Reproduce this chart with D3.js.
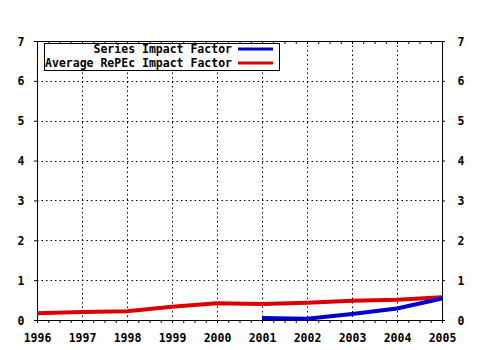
<!DOCTYPE html>
<html><head><meta charset="utf-8">
<script src="https://cdn.jsdelivr.net/npm/d3@7"></script>
<style>
body{margin:0;background:#fff;}
text{font-family:"DejaVu Sans Mono","Liberation Mono",monospace;font-weight:bold;font-size:11.5px;fill:#000;}
</style></head>
<body><svg id="c" width="480" height="350"></svg>
<script>
const years = [1996,1997,1998,1999,2000,2001,2002,2003,2004,2005];
const avgRepec = [0.17,0.20,0.22,0.33,0.42,0.40,0.43,0.48,0.51,0.57];
const seriesYears = [2001,2002,2003,2004,2005];
const seriesIF = [0.05,0.03,0.15,0.29,0.54];
const yTicks = [0,1,2,3,4,5,6,7];
const seriesNames = ["Series Impact Factor","Average RePEc Impact Factor"];

const svg = d3.select("#c");
const x = d3.scaleLinear().domain([1996,2005]).range([37,442]);
const y = d3.scaleLinear().domain([0,7]).range([320,41]);
const minorX = d3.range(1996,2005.001,0.25);

// grid
const g = svg.append("g");
g.selectAll(".gx").data(years.slice(1,-1)).enter().append("line")
  .attr("x1",d=>Math.round(x(d))+0.5).attr("x2",d=>Math.round(x(d))+0.5)
  .attr("y1",y(7)).attr("y2",y(0))
  .attr("stroke","#000").attr("stroke-dasharray","1.5,3");
g.selectAll(".gy").data(yTicks.slice(1,-1)).enter().append("line")
  .attr("y1",d=>Math.round(y(d))+0.5).attr("y2",d=>Math.round(y(d))+0.5)
  .attr("x1",x(1996)).attr("x2",x(2005))
  .attr("stroke","#000").attr("stroke-dasharray","1.5,3");

// axes
svg.append("g").attr("transform",`translate(0,${y(0)})`).call(d3.axisBottom(x).tickValues(minorX).tickSize(3).tickFormat(""))
  .call(s=>s.select(".domain").attr("d",`M${x(1996)},0.5H${x(2005)}`));
svg.append("g").attr("transform",`translate(0,${y(7)})`).call(d3.axisBottom(x).tickValues(minorX).tickSize(3).tickFormat(""))
  .call(s=>s.select(".domain").attr("d",`M${x(1996)},0.5H${x(2005)}`));
svg.append("g").attr("transform",`translate(0,${y(0)+7})`).call(d3.axisBottom(x).tickValues(years).tickSize(0).tickFormat(d3.format("d")))
  .call(s=>{s.select(".domain").remove(); s.selectAll("text").attr("dy","1.0em");});
svg.append("g").attr("transform",`translate(${x(1996)},0)`).call(d3.axisLeft(y).tickValues(yTicks).tickSize(3).tickPadding(13).tickFormat(d3.format("d")))
  .call(s=>{s.select(".domain").attr("d",`M0.5,${y(0)}V${y(7)}`); s.selectAll("text").attr("text-anchor","middle").attr("dy","0.35em");});
svg.append("g").attr("transform",`translate(${x(2005)},0)`).call(d3.axisRight(y).tickValues(yTicks).tickSize(3).tickPadding(16).tickFormat(d3.format("d")))
  .call(s=>{s.select(".domain").attr("d",`M0.5,${y(0)}V${y(7)}`); s.selectAll("text").attr("text-anchor","middle").attr("dy","0.35em");});
svg.selectAll(".tick line").attr("stroke","#000");
svg.selectAll(".domain").attr("stroke","#000");

// lines
const line = d3.line().x(d=>x(d[0])).y(d=>y(d[1]));
svg.append("path").datum(years.map((d,i)=>[d,avgRepec[i]])).attr("d",line)
  .attr("fill","none").attr("stroke","#dd0000").attr("stroke-width",4);
svg.append("path").datum(seriesYears.map((d,i)=>[d,seriesIF[i]])).attr("d",line)
  .attr("fill","none").attr("stroke","#0000cc").attr("stroke-width",4);

// legend
const lg = svg.append("g");
lg.append("rect").attr("x",44.5).attr("y",43.5).attr("width",235).attr("height",27)
  .attr("fill","#fff").attr("stroke","#000");
const colors = ["#0000cc","#dd0000"];
seriesNames.forEach((n,i)=>{
  const yy = 49 + i*14;
  lg.append("text").attr("x",232).attr("y",yy).attr("dy","0.35em").attr("text-anchor","end").text(n);
  lg.append("line").attr("x1",238).attr("x2",273).attr("y1",yy).attr("y2",yy)
    .attr("stroke",colors[i]).attr("stroke-width",3);
});
</script></body></html>
